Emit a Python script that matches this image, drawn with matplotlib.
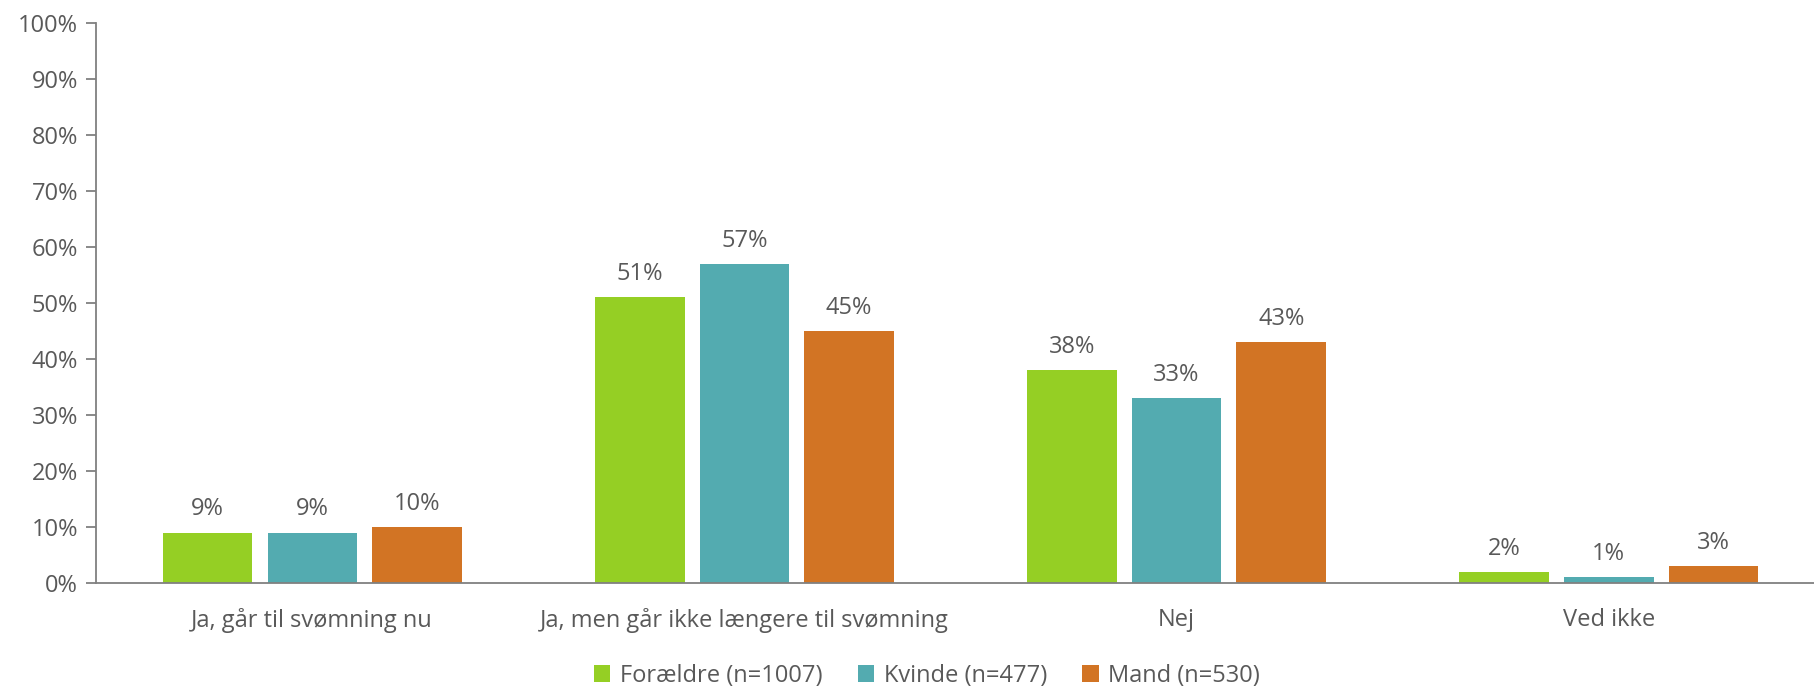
import matplotlib.pyplot as plt
import numpy as np

kategorier = ['Ja, går til svømning nu', 'Ja, men går ikke længere til svømning', 'Nej', 'Ved ikke']
serier = ['Forældre (n=1007)', 'Kvinde (n=477)', 'Mand (n=530)']
foraeldre = [9, 51, 38, 2]
kvinde = [9, 57, 33, 1]
mand = [10, 45, 43, 3]
farver = ['#95CF24', '#53ABB0', '#D27424']

plt.rcParams['font.family'] = ['Open Sans', 'DejaVu Sans']
graa = '#595959'
fs = 17

fig = plt.figure(figsize=(18.14, 6.87), dpi=100)
ax = fig.add_axes([0.053, 0.1514, 0.953, 0.8151])

x = np.arange(len(kategorier))
bredde = 0.207
trin = 0.242
for i, (vals, navn, farve) in enumerate(zip([foraeldre, kvinde, mand], serier, farver)):
    pos = x + (i - 1) * trin
    bars = ax.bar(pos, vals, bredde, color=farve, label=navn)
    for b, v in zip(bars, vals):
        ax.annotate(f'{v}%', (b.get_x() + b.get_width() / 2, v), xytext=(0, 8),
                    textcoords='offset points', ha='center', va='bottom',
                    fontsize=fs, color=graa)

ax.set_xlim(-0.5, len(kategorier) - 0.5)
ax.set_ylim(0, 100)
ax.set_yticks(range(0, 101, 10))
ax.set_yticklabels([f'{t}%' for t in range(0, 101, 10)])
ax.set_xticks(x)
ax.set_xticklabels(kategorier)
ax.tick_params(axis='y', colors='#808080', labelcolor=graa, labelsize=fs, length=7, width=1.3, pad=6)
ax.tick_params(axis='x', length=0, labelcolor=graa, labelsize=fs, pad=18)
for s in ['top', 'right']:
    ax.spines[s].set_visible(False)
for s in ['left', 'bottom']:
    ax.spines[s].set_color('#808080')
    ax.spines[s].set_linewidth(1.3)

fig.legend(loc='lower center', bbox_to_anchor=(0.511, -0.032), ncol=3, frameon=False,
           fontsize=fs, labelcolor=graa, handlelength=0.7, handleheight=0.7,
           handletextpad=0.4, columnspacing=1.5)

fig.savefig('out.png', dpi=100)
